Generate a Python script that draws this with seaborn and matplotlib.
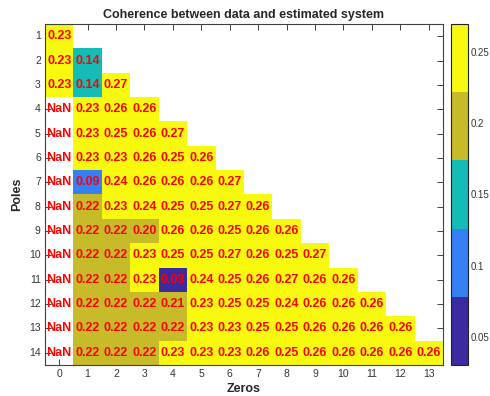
import numpy as np
import pandas as pd
import matplotlib
matplotlib.use("Agg")
import matplotlib.pyplot as plt
from matplotlib.colors import ListedColormap
import seaborn as sns

nan = np.nan

# Coherence per model order: row = number of poles, entries = zeros 0..poles-1
poles = list(range(1, 15))
zeros = list(range(0, 14))
coherence_rows = [
    [0.23],
    [0.23, 0.14],
    [0.23, 0.14, 0.27],
    [nan, 0.23, 0.26, 0.26],
    [nan, 0.23, 0.25, 0.26, 0.27],
    [nan, 0.23, 0.23, 0.26, 0.25, 0.26],
    [nan, 0.09, 0.24, 0.26, 0.26, 0.26, 0.27],
    [nan, 0.22, 0.23, 0.24, 0.25, 0.25, 0.27, 0.26],
    [nan, 0.22, 0.22, 0.20, 0.26, 0.26, 0.25, 0.26, 0.26],
    [nan, 0.22, 0.22, 0.23, 0.25, 0.25, 0.27, 0.26, 0.25, 0.27],
    [nan, 0.22, 0.22, 0.23, 0.03, 0.24, 0.25, 0.26, 0.27, 0.26, 0.26],
    [nan, 0.22, 0.22, 0.22, 0.21, 0.23, 0.25, 0.25, 0.24, 0.26, 0.26, 0.26],
    [nan, 0.22, 0.22, 0.22, 0.22, 0.23, 0.23, 0.25, 0.25, 0.26, 0.26, 0.26, 0.26],
    [nan, 0.22, 0.22, 0.22, 0.23, 0.23, 0.23, 0.26, 0.25, 0.26, 0.26, 0.26, 0.26, 0.26],
]
colorbar_ticks = [0.05, 0.1, 0.15, 0.2, 0.25]
colorbar_labels = ["0.05", "0.1", "0.15", "0.2", "0.25"]
palette = ["#3b2aa0", "#3480f4", "#14bcb5", "#c8bb2a", "#f8f90f"]

# Build the full pole x zero grid (upper part stays empty)
grid = np.full((len(poles), len(zeros)), nan)
inside = np.zeros_like(grid, dtype=bool)
for i, row in enumerate(coherence_rows):
    grid[i, :len(row)] = row
    inside[i, :len(row)] = True
df = pd.DataFrame(grid, index=poles, columns=zeros)

sns.set_style("white")
plt.rcParams["font.family"] = ["Liberation Sans", "DejaVu Sans"]

fig = plt.figure(figsize=(4.9, 3.96), dpi=100)
ax = fig.add_axes([0.0918, 0.0783, 0.8122, 0.8611])
cax = fig.add_axes([0.9204, 0.0783, 0.0347, 0.8611])

vmin = np.nanmin(grid)
vmax = np.nanmax(grid)
cmap = ListedColormap(palette)

sns.heatmap(df, ax=ax, cbar_ax=cax, cmap=cmap, vmin=vmin, vmax=vmax,
            mask=~inside | np.isnan(grid), linewidths=0, square=False)

# Value labels, including NaN entries
for i, row in enumerate(coherence_rows):
    for j, v in enumerate(row):
        txt = "NaN" if np.isnan(v) else f"{v:.2f}"
        ax.text(j + 0.5, i + 0.5, txt, ha="center", va="center",
                color="#ff0000", fontsize=9, fontweight="bold")

edge = "#404040"
ax.set_xticks(np.arange(len(zeros)) + 0.5)
ax.set_xticklabels([str(z) for z in zeros], rotation=0)
ax.set_yticks(np.arange(len(poles)) + 0.5)
ax.set_yticklabels([str(p) for p in poles], rotation=0)
ax.tick_params(axis="both", which="both", direction="in", length=4, width=0.7,
               color=edge, labelsize=7.5, labelcolor="#333333",
               top=True, right=True, bottom=True, left=True, pad=3)
for s in ax.spines.values():
    s.set_visible(True)
    s.set_color(edge)
    s.set_linewidth(0.8)

ax.set_title("Coherence between data and estimated system", fontsize=9,
             fontweight="bold", pad=4)
ax.set_xlabel("Zeros", fontsize=9, fontweight="bold", labelpad=3)
ax.set_ylabel("Poles", fontsize=9, fontweight="bold", labelpad=4)

cbar = ax.collections[0].colorbar
cbar.set_ticks(colorbar_ticks)
cbar.set_ticklabels(colorbar_labels)
cax.tick_params(direction="in", length=3, width=0.7, color=edge,
                labelsize=7, labelcolor="#333333", pad=2)
cbar.outline.set_visible(True)
cbar.outline.set_edgecolor("#222222")
cbar.outline.set_linewidth(0.8)

fig.savefig("out.png", dpi=100)
